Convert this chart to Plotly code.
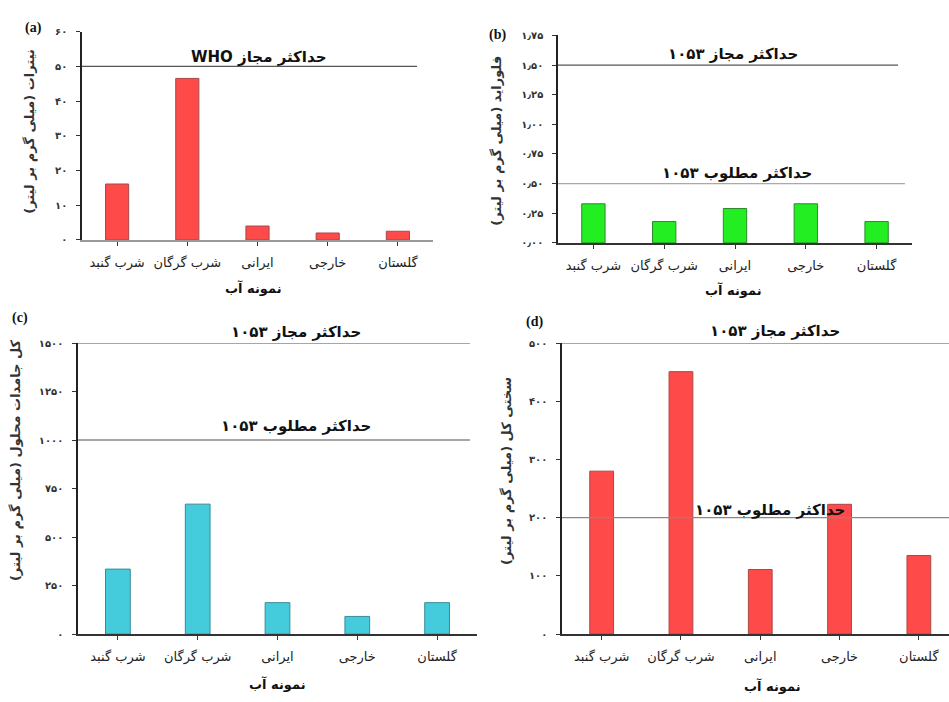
import plotly.graph_objects as go

W, H = 949, 702

categories = ["شرب گنبد", "شرب گرگان", "ایرانی", "خارجی", "گلستان"]

nitrate = [16.1, 46.5, 4.0, 2.0, 2.5]
fluoride = [0.33, 0.18, 0.29, 0.33, 0.18]
tds = [335, 670, 162, 91, 162]
hardness = [280, 451, 111, 223, 135]

a_ticks = [0, 10, 20, 30, 40, 50, 60]
a_ticktext = ["۰", "۱۰", "۲۰", "۳۰", "۴۰", "۵۰", "۶۰"]
b_ticks = [0, 0.25, 0.5, 0.75, 1.0, 1.25, 1.5, 1.75]
b_ticktext = ["۰٫۰۰", "۰٫۲۵", "۰٫۵۰", "۰٫۷۵", "۱٫۰۰", "۱٫۲۵", "۱٫۵۰", "۱٫۷۵"]
c_ticks = [0, 250, 500, 750, 1000, 1250, 1500]
c_ticktext = ["۰", "۲۵۰", "۵۰۰", "۷۵۰", "۱۰۰۰", "۱۲۵۰", "۱۵۰۰"]
d_ticks = [0, 100, 200, 300, 400, 500]
d_ticktext = ["۰", "۱۰۰", "۲۰۰", "۳۰۰", "۴۰۰", "۵۰۰"]

a_limit = [50]
b_limits = [1.5, 0.5]
c_limits = [1500, 1000]
d_limits = [500, 200]

RLE, PDF, RLM = "\u202b", "\u202c", "\u200f"
lbl_max = "حداکثر مجاز ۱۰۵۳"
lbl_des = "حداکثر مطلوب ۱۰۵۳"
lbl_who = RLE + "حداکثر مجاز WHO" + PDF
x_title = "نمونه آب"
y_titles = [
    "نیترات (میلی گرم بر لیتر)" + RLM,
    "فلوراید (میلی گرم بر لیتر)" + RLM,
    "کل جامدات محلول (میلی گرم بر لیتر)" + RLM,
    "سختی کل (میلی گرم بر لیتر)" + RLM,
]

FA = "DejaVu Sans"
fig = go.Figure()

def px(v):
    return v / W

def py(v):
    return 1 - v / H

panels = [
    ("", nitrate, "#ff4a4a", "#a84848", 0.33, [82, 433], [238, 26], [0, 60], [-0.5, 4.5]),
    ("2", fluoride, "#22ee22", "#2f8a2f", 0.33, [558, 912], [241, 30], [0, 1.75], [-0.5, 4.5]),
    ("3", tds, "#44ccdd", "#3a8a99", 0.31, [78, 477], [639, 343], [0, 1500], [-0.5, 4.5]),
    ("4", hardness, "#ff4a4a", "#a84848", 0.30, [562, 949], [639, 343], [0, 500], [-0.5, 4.38]),
]
ticks = [(a_ticks, a_ticktext), (b_ticks, b_ticktext), (c_ticks, c_ticktext), (d_ticks, d_ticktext)]
xline_colors = ["#999999", "#333333", "#333333", "#333333"]

for i, (n, vals, col, edge, bw, xd, yd, yr, xr) in enumerate(panels):
    fig.add_trace(go.Bar(
        x=categories, y=vals, xaxis="x" + n, yaxis="y" + n,
        marker=dict(color=col, line=dict(color=edge, width=1)),
        width=bw, showlegend=False,
    ))
    tv, tt = ticks[i]
    fig.layout["xaxis" + n] = dict(
        domain=[px(xd[0]), min(1, px(xd[1]))], anchor="y" + n,
        range=xr, showline=True, linecolor=xline_colors[i], linewidth=1.5,
        ticks="outside", ticklen=4, tickcolor="#333333", showgrid=False,
        tickfont=dict(family=FA, size=13, color="#222222"), ticklabelstandoff=6,
        fixedrange=True,
    )
    fig.layout["yaxis" + n] = dict(
        domain=[py(yd[0]), py(yd[1])], anchor="x" + n,
        range=yr, showline=True, linecolor="#222222", linewidth=1.5,
        ticks="outside", ticklen=4, tickcolor="#333333", showgrid=False,
        tickvals=tv, ticktext=tt, zeroline=False,
        tickfont=dict(family=FA, size=10, color="#333333", weight="bold"), ticklabelstandoff=7,
        fixedrange=True,
    )

shapes = []
def hline(yref, y, x0, x1, color, width=1.2):
    shapes.append(dict(type="line", xref="paper", yref=yref, x0=px(x0), x1=min(1, px(x1)),
                       y0=y, y1=y, line=dict(color=color, width=width)))

hline("y", a_limit[0], 82, 417, "#555555")
hline("y2", b_limits[0], 558, 898, "#555555")
hline("y2", b_limits[1], 558, 905, "#aaaaaa")
hline("y3", c_limits[0], 78, 470, "#888888", 1.5)
hline("y3", c_limits[1], 78, 470, "#888888", 1.5)
hline("y4", d_limits[0], 562, 949, "#888888", 1.5)
hline("y4", d_limits[1], 562, 949, "#888888", 1.2)
fig.update_layout(shapes=shapes)

ann = []
def text(x, y, s, size=12, bold=True, family=FA, angle=0, color="#111111"):
    ann.append(dict(xref="paper", yref="paper", x=px(x), y=py(y), text=("<b>%s</b>" % s) if bold else s,
                    showarrow=False, textangle=angle, xanchor="center", yanchor="middle",
                    font=dict(family=family, size=size, color=color)))

# panel letters
text(33, 22, "(a)", 14, True, "Liberation Serif")
text(497, 30, "(b)", 14, True, "Liberation Serif")
text(20, 317, "(c)", 14, True, "Liberation Serif")
text(534, 322, "(d)", 14, True, "Liberation Serif")

# limit labels
text(258, 52, lbl_who, 15)
text(733, 49, lbl_max, 15)
text(737, 170, lbl_des, 15)
text(296, 332, lbl_max, 15)
text(296, 427, lbl_des, 15)
text(775, 331, lbl_max, 15)
text(770, 513, lbl_des, 15)

# y titles
text(30, 128, y_titles[0], 13, True, angle=-90, color="#333333")
text(497, 137, y_titles[1], 13, True, angle=-90, color="#333333")
text(16, 462, y_titles[2], 13, True, angle=-90, color="#333333")
text(507, 473, y_titles[3], 13, True, angle=-90, color="#333333")

# x titles
text(253, 287, x_title, 13, True)
text(733, 289, x_title, 13, True)
text(277, 690, x_title, 13, True)
text(772, 692, x_title, 13, True)

fig.update_layout(
    annotations=ann,
    width=W, height=H,
    margin=dict(l=0, r=0, t=0, b=0),
    paper_bgcolor="white", plot_bgcolor="white",
)

fig.write_html("out.html", config={"displayModeBar": False},
               post_script="document.body.style.margin='0';document.body.style.overflow='hidden';")
